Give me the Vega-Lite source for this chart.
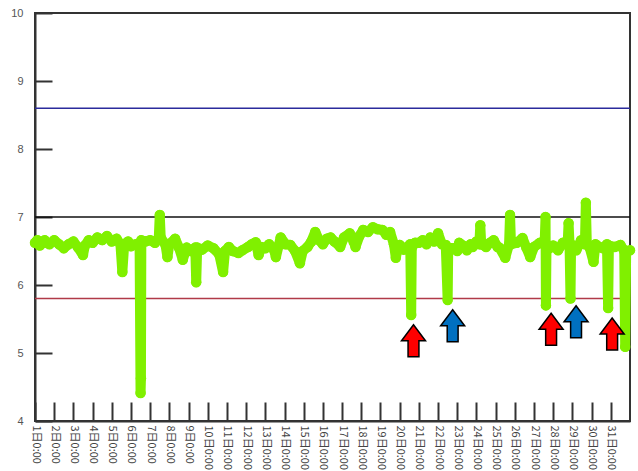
{
  "$schema": "https://vega.github.io/schema/vega-lite/v6.json",
  "width": 595,
  "height": 408,
  "autosize": {"type": "none"},
  "padding": {"left": 35, "top": 13, "right": 8, "bottom": 50},
  "config": {
    "view": {"stroke": "#333333", "strokeWidth": 2},
    "font": "Liberation Sans",
    "axis": {"grid": false}
  },
  "datasets": {
    "limits": [
      {"value": 8.6, "limit": "upper"},
      {"value": 7.0, "limit": "mid"},
      {"value": 5.8, "limit": "lower"}
    ],
    "arrows": [
      {"day": 20.72, "pH": 5.18, "kind": "red"},
      {"day": 22.76, "pH": 5.40, "kind": "blue"},
      {"day": 27.89, "pH": 5.35, "kind": "red"},
      {"day": 29.19, "pH": 5.46, "kind": "blue"},
      {"day": 31.07, "pH": 5.28, "kind": "red"}
    ],
    "ph": [
      {"day": 1.0, "pH": 6.62}, {"day": 1.12, "pH": 6.66}, {"day": 1.25, "pH": 6.58}, {"day": 1.38, "pH": 6.62}, {"day": 1.5, "pH": 6.66}, {"day": 1.62, "pH": 6.62}, {"day": 1.75, "pH": 6.6},
      {"day": 2.0, "pH": 6.66}, {"day": 2.25, "pH": 6.6}, {"day": 2.5, "pH": 6.54}, {"day": 2.75, "pH": 6.6},
      {"day": 3.0, "pH": 6.64}, {"day": 3.25, "pH": 6.55}, {"day": 3.5, "pH": 6.44}, {"day": 3.6, "pH": 6.58},
      {"day": 3.8, "pH": 6.66}, {"day": 4.0, "pH": 6.62}, {"day": 4.25, "pH": 6.7}, {"day": 4.5, "pH": 6.66},
      {"day": 4.75, "pH": 6.72}, {"day": 5.0, "pH": 6.64}, {"day": 5.25, "pH": 6.68}, {"day": 5.45, "pH": 6.6},
      {"day": 5.55, "pH": 6.19}, {"day": 5.65, "pH": 6.6}, {"day": 5.85, "pH": 6.64}, {"day": 6.0, "pH": 6.57},
      {"day": 6.25, "pH": 6.6}, {"day": 6.45, "pH": 6.55}, {"day": 6.5, "pH": 4.41}, {"day": 6.52, "pH": 4.63},
      {"day": 6.54, "pH": 6.66}, {"day": 6.75, "pH": 6.64}, {"day": 7.0, "pH": 6.66}, {"day": 7.25, "pH": 6.62},
      {"day": 7.45, "pH": 6.7}, {"day": 7.5, "pH": 7.03}, {"day": 7.55, "pH": 6.7}, {"day": 7.8, "pH": 6.59},
      {"day": 7.9, "pH": 6.41}, {"day": 8.0, "pH": 6.6}, {"day": 8.3, "pH": 6.68}, {"day": 8.5, "pH": 6.55},
      {"day": 8.7, "pH": 6.37}, {"day": 8.9, "pH": 6.55}, {"day": 9.1, "pH": 6.5}, {"day": 9.35, "pH": 6.55},
      {"day": 9.4, "pH": 6.04}, {"day": 9.45, "pH": 6.55}, {"day": 9.7, "pH": 6.52}, {"day": 10.0, "pH": 6.58},
      {"day": 10.3, "pH": 6.54}, {"day": 10.6, "pH": 6.45}, {"day": 10.8, "pH": 6.19}, {"day": 10.9, "pH": 6.5},
      {"day": 11.1, "pH": 6.56}, {"day": 11.3, "pH": 6.5}, {"day": 11.6, "pH": 6.47}, {"day": 11.8, "pH": 6.51},
      {"day": 12.1, "pH": 6.56}, {"day": 12.3, "pH": 6.6}, {"day": 12.5, "pH": 6.63}, {"day": 12.65, "pH": 6.44},
      {"day": 12.8, "pH": 6.56}, {"day": 13.0, "pH": 6.54}, {"day": 13.2, "pH": 6.6}, {"day": 13.45, "pH": 6.52},
      {"day": 13.55, "pH": 6.41}, {"day": 13.8, "pH": 6.7}, {"day": 14.05, "pH": 6.6}, {"day": 14.3, "pH": 6.59},
      {"day": 14.55, "pH": 6.5}, {"day": 14.8, "pH": 6.32}, {"day": 14.95, "pH": 6.5}, {"day": 15.2, "pH": 6.56},
      {"day": 15.4, "pH": 6.64}, {"day": 15.6, "pH": 6.78}, {"day": 15.8, "pH": 6.66}, {"day": 16.0, "pH": 6.6},
      {"day": 16.2, "pH": 6.68}, {"day": 16.4, "pH": 6.7}, {"day": 16.6, "pH": 6.64}, {"day": 16.9, "pH": 6.56},
      {"day": 17.1, "pH": 6.7}, {"day": 17.4, "pH": 6.76}, {"day": 17.6, "pH": 6.64}, {"day": 17.7, "pH": 6.56},
      {"day": 17.9, "pH": 6.72}, {"day": 18.1, "pH": 6.81}, {"day": 18.35, "pH": 6.78}, {"day": 18.6, "pH": 6.85},
      {"day": 18.85, "pH": 6.82}, {"day": 19.1, "pH": 6.81}, {"day": 19.3, "pH": 6.74}, {"day": 19.5, "pH": 6.78},
      {"day": 19.7, "pH": 6.6}, {"day": 19.8, "pH": 6.4}, {"day": 19.9, "pH": 6.55}, {"day": 20.0, "pH": 6.59},
      {"day": 20.2, "pH": 6.52}, {"day": 20.4, "pH": 6.56}, {"day": 20.55, "pH": 6.6}, {"day": 20.6, "pH": 5.56},
      {"day": 20.63, "pH": 6.55}, {"day": 20.8, "pH": 6.62}, {"day": 21.0, "pH": 6.62}, {"day": 21.2, "pH": 6.66},
      {"day": 21.4, "pH": 6.6}, {"day": 21.6, "pH": 6.7}, {"day": 21.8, "pH": 6.64}, {"day": 22.0, "pH": 6.76},
      {"day": 22.2, "pH": 6.6}, {"day": 22.4, "pH": 6.59}, {"day": 22.5, "pH": 5.78}, {"day": 22.53, "pH": 6.55},
      {"day": 22.8, "pH": 6.54}, {"day": 23.0, "pH": 6.5}, {"day": 23.1, "pH": 6.62}, {"day": 23.3, "pH": 6.58},
      {"day": 23.5, "pH": 6.51}, {"day": 23.7, "pH": 6.6}, {"day": 23.8, "pH": 6.56}, {"day": 24.0, "pH": 6.64},
      {"day": 24.15, "pH": 6.6}, {"day": 24.2, "pH": 6.88}, {"day": 24.25, "pH": 6.6}, {"day": 24.5, "pH": 6.56},
      {"day": 24.7, "pH": 6.62}, {"day": 24.9, "pH": 6.66}, {"day": 25.1, "pH": 6.56}, {"day": 25.2, "pH": 6.55},
      {"day": 25.5, "pH": 6.4}, {"day": 25.7, "pH": 6.6}, {"day": 25.75, "pH": 7.03}, {"day": 25.8, "pH": 6.6},
      {"day": 26.1, "pH": 6.62}, {"day": 26.4, "pH": 6.69}, {"day": 26.6, "pH": 6.55}, {"day": 26.8, "pH": 6.41},
      {"day": 27.0, "pH": 6.56}, {"day": 27.3, "pH": 6.62}, {"day": 27.55, "pH": 6.6}, {"day": 27.6, "pH": 7.0},
      {"day": 27.62, "pH": 5.7}, {"day": 27.65, "pH": 6.6}, {"day": 27.8, "pH": 6.54}, {"day": 28.0, "pH": 6.58},
      {"day": 28.25, "pH": 6.51}, {"day": 28.5, "pH": 6.62}, {"day": 28.75, "pH": 6.6}, {"day": 28.8, "pH": 6.91},
      {"day": 28.85, "pH": 6.6}, {"day": 28.9, "pH": 5.8}, {"day": 28.93, "pH": 6.6}, {"day": 29.2, "pH": 6.51},
      {"day": 29.45, "pH": 6.66}, {"day": 29.65, "pH": 6.6}, {"day": 29.7, "pH": 7.21}, {"day": 29.75, "pH": 6.6},
      {"day": 29.9, "pH": 6.55}, {"day": 30.1, "pH": 6.34}, {"day": 30.2, "pH": 6.6}, {"day": 30.4, "pH": 6.56},
      {"day": 30.6, "pH": 6.54}, {"day": 30.8, "pH": 6.6}, {"day": 30.86, "pH": 5.66}, {"day": 30.9, "pH": 6.58},
      {"day": 31.2, "pH": 6.56}, {"day": 31.5, "pH": 6.59}, {"day": 31.7, "pH": 6.5}, {"day": 31.75, "pH": 5.09},
      {"day": 31.8, "pH": 6.5}, {"day": 32.0, "pH": 6.51}
    ]
  },
  "layer": [
    {
      "data": {"name": "limits"},
      "mark": {"type": "rule", "strokeWidth": 1.5},
      "encoding": {
        "y": {
          "field": "value",
          "type": "quantitative",
          "scale": {"domain": [4, 10], "nice": false, "zero": false},
          "axis": {
            "title": null,
            "values": [4, 5, 6, 7, 8, 9, 10],
            "tickCount": 10,
            "format": "d",
            "tickSize": -17,
            "tickWidth": 2,
            "tickColor": "#333333",
            "domainColor": "#333333",
            "domainWidth": 2,
            "labelPadding": 29,
            "labelFontSize": 11,
            "labelColor": "#555555",
            "labelFont": "Liberation Sans"
          }
        },
        "stroke": {
          "field": "limit",
          "type": "nominal",
          "scale": {"domain": ["upper", "mid", "lower"], "range": ["#2b2b9c", "#111111", "#b03a48"]},
          "legend": null
        }
      }
    },
    {
      "data": {"name": "ph"},
      "mark": {"type": "line", "color": "#80f000", "strokeWidth": 10, "strokeJoin": "round", "strokeCap": "round"},
      "encoding": {
        "x": {
          "field": "day",
          "type": "quantitative",
          "scale": {"domain": [1, 32], "nice": false, "zero": false},
          "axis": {
            "title": null,
            "values": [1, 2, 3, 4, 5, 6, 7, 8, 9, 10, 11, 12, 13, 14, 15, 16, 17, 18, 19, 20, 21, 22, 23, 24, 25, 26, 27, 28, 29, 30, 31],
            "tickCount": 40,
            "labelExpr": "datum.value + '日0:00'",
            "labelAngle": 90,
            "labelAlign": "left",
            "labelBaseline": "middle",
            "tickSize": -19,
            "tickWidth": 2,
            "tickColor": "#333333",
            "domainColor": "#333333",
            "domainWidth": 2,
            "labelPadding": 23,
            "labelFontSize": 11,
            "labelColor": "#444444",
            "labelFont": "Noto Sans CJK JP",
            "labelOverlap": false,
            "labelFlush": false
          }
        },
        "y": {"field": "pH", "type": "quantitative"}
      }
    },
    {
      "data": {"name": "ph"},
      "mark": {"type": "circle", "color": "#80f000", "size": 110, "opacity": 1},
      "encoding": {
        "x": {"field": "day", "type": "quantitative"},
        "y": {"field": "pH", "type": "quantitative"}
      }
    },
    {
      "data": {"name": "arrows"},
      "mark": {
        "type": "point",
        "shape": "M0,-1L0.75,0L0.34,0L0.34,1L-0.34,1L-0.34,0L-0.75,0Z",
        "size": 1024,
        "filled": true,
        "stroke": "#000000",
        "strokeWidth": 1.5,
        "opacity": 1
      },
      "encoding": {
        "x": {"field": "day", "type": "quantitative"},
        "y": {"field": "pH", "type": "quantitative"},
        "fill": {
          "field": "kind",
          "type": "nominal",
          "scale": {"domain": ["red", "blue"], "range": ["#ff0000", "#0070c0"]},
          "legend": null
        }
      }
    }
  ]
}
